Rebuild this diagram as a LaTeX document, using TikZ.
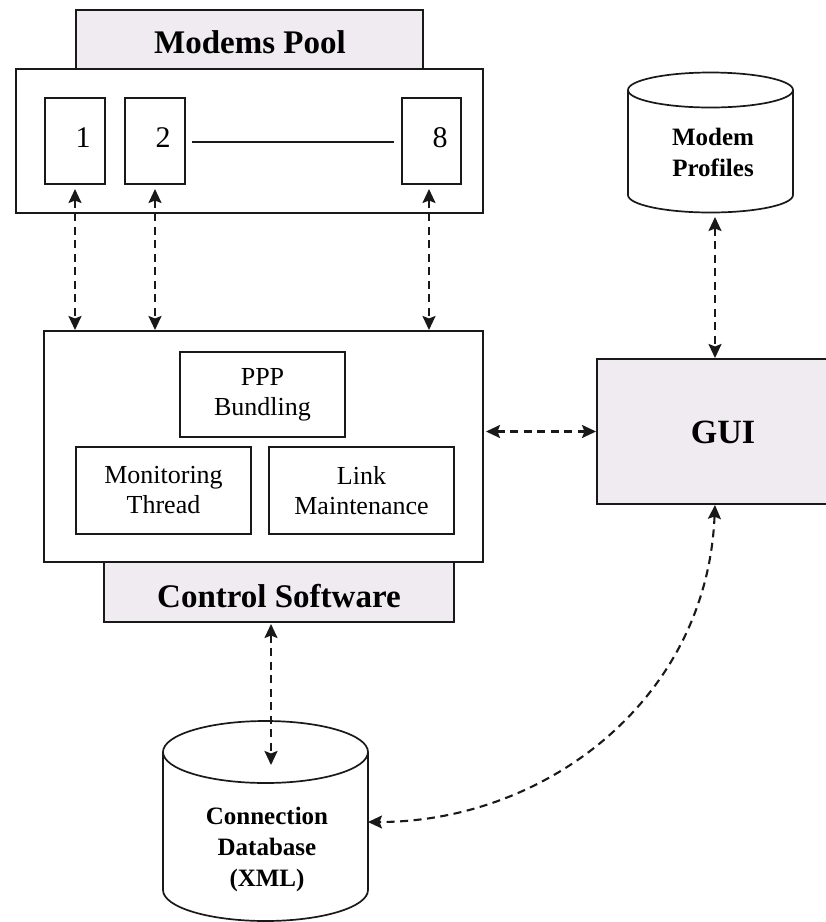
\documentclass[tikz,border=0pt]{standalone}
\usepackage{fontspec}
\setmainfont{Liberation Serif}
\usetikzlibrary{arrows.meta}
\definecolor{tabfill}{RGB}{239,235,240}
\definecolor{ink}{RGB}{25,25,25}
\begin{document}
\begin{tikzpicture}[x=1pt,y=-1pt,
  box/.style={draw=ink,line width=2pt,inner sep=0pt},
  tab/.style={box,fill=tabfill},
  cyl/.style={draw=ink,line width=1.7pt,fill=white},
  tip/.tip={Stealth[length=14pt,width=13pt,inset=2.5pt]},
  link/.style={draw=ink,line width=2.1pt,dash pattern=on 8pt off 5.5pt,tip-tip},
  ttl/.style={font=\fontsize{33}{38}\selectfont\bfseries},
  lbl/.style={font=\fontsize{26}{30}\selectfont,align=center},
  dig/.style={font=\fontsize{30}{34}\selectfont},
  dbl/.style={font=\fontsize{25}{31}\selectfont\bfseries,align=center}]
\clip (0,0) rectangle (826,922);
\fill[white] (0,0) rectangle (826,922);

% Modems pool
\node[tab,minimum width=347pt,minimum height=59pt] (pooltab) at (249.5,39.5) {};
\node[ttl] (pooltxt) at (250,42) {Modems Pool};
\node[box,fill=white,minimum width=467pt,minimum height=144pt] (pool) at (249.5,141) {};
\node[box,minimum width=60pt,minimum height=86pt] (m1) at (75,141) {};
\node[box,minimum width=60pt,minimum height=86pt] (m2) at (155,141) {};
\node[box,minimum width=59pt,minimum height=86pt] (m8) at (431.5,141) {};
\node[dig] (l1) at (83,138) {1};
\node[dig] (l2) at (163,138) {2};
\node[dig] (l8) at (440,138) {8};
\draw[ink,line width=1.8pt] ([xshift=6pt,yshift=-1pt]m2.east) -- ([xshift=-7pt,yshift=-1pt]m8.west);

% Control software
\node[box,minimum width=439pt,minimum height=231pt] (ctrl) at (263.5,446.5) {};
\node[box,lbl,minimum width=165pt,minimum height=85pt] (ppp) at (262.5,394.5) {PPP\\Bundling};
\node[box,lbl,minimum width=175pt,minimum height=87pt] (mon) at (163.5,490.5) {Monitoring\\Thread};
\node[box,lbl,minimum width=185pt,minimum height=87pt] (lnk) at (361.5,490.5) {Link\\Maintenance};
\node[tab,minimum width=350pt,minimum height=60pt] (cs) at (279,592) {};
\node[ttl] (cstxt) at (279,596) {Control Software};

% GUI
\node[tab,minimum width=252pt,minimum height=145pt] (gui) at (723,431.5) {};
\node[ttl,font=\fontsize{34}{38}\selectfont\bfseries] (guitxt) at (723,432) {GUI};

% Modem profiles cylinder
\draw[cyl] (628,90) -- (628,195) arc[start angle=180,end angle=0,x radius=82.5,y radius=17.5] -- (793,90);
\draw[cyl] (710.5,90) ellipse [x radius=82.5,y radius=17.5];
\node[dbl] (mp) at (713,152) {Modem\\Profiles};
\coordinate (mpbot) at (715,217);

% Connection database cylinder
\draw[cyl] (163,752) -- (163,890) arc[start angle=180,end angle=0,x radius=102.5,y radius=31] -- (368,752);
\draw[cyl] (265.5,752) ellipse [x radius=102.5,y radius=31];
\node[dbl] (db) at (267,849) {Connection\\Database\\(XML)};
\coordinate (dbtop) at (271,765);
\coordinate (dbright) at (368,822);

% Connectors
\draw[link] ([yshift=-4pt]m1.south) -- (m1.south |- ctrl.north);
\draw[link] ([yshift=-4pt]m2.south) -- (m2.south |- ctrl.north);
\draw[link] ([xshift=-2.5pt,yshift=-4pt]m8.south) -- ([xshift=-2.5pt]m8.south |- ctrl.north);
\draw[link] ([xshift=2pt]ctrl.east |- gui.west) -- (gui.west);
\draw[link] (mpbot) -- (mpbot |- gui.north);
\draw[link] ([xshift=-8pt,yshift=-1pt]cs.south) -- (dbtop);
\draw[link] ([xshift=-8pt]gui.south) .. controls (707,700) and (545,822) .. (dbright);
\end{tikzpicture}
\end{document}
